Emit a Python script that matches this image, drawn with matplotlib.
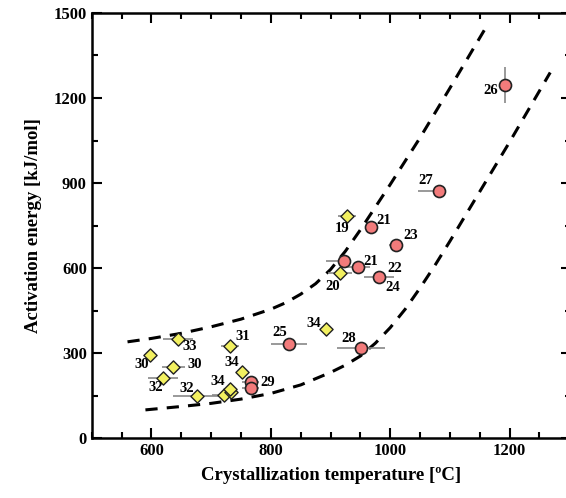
import numpy as np
import matplotlib
matplotlib.use('Agg')
import matplotlib.pyplot as plt
from matplotlib.ticker import MultipleLocator

""" Data read off the figure """

# circles (red)
circ_T = [1193, 1081, 968, 1010, 923, 946, 981, 830, 951, 766, 766]
circ_E = [1246, 873, 745, 681, 625, 604, 568, 334, 319, 199, 178]
circ_xlo = [0, 35, 0, 12, 30, 20, 25, 30, 40, 15, 15]
circ_xhi = [0, 10, 0, 12, 10, 20, 25, 30, 40, 15, 15]
circ_yerr = [65, 0, 0, 0, 0, 0, 0, 0, 0, 0, 0]

# diamonds (yellow)
dia_T = [928, 916, 892, 644, 731, 597, 637, 620, 751, 677, 721, 733, 731]
dia_E = [785, 582, 387, 351, 327, 295, 252, 213, 234, 149, 153, 163, 174]
dia_xerr = [15, 20, 0, 25, 15, 10, 20, 25, 0, 40, 20, 0, 0]

# labels: text, x, y
lab_txt = ['26', '27', '21', '19', '23', '21', '22', '24', '20', '34', '25', '28',
           '31', '33', '30', '30', '32', '34', '29', '32', '34']
lab_T = [1169, 1059, 990, 919, 1035, 968, 1007, 1005, 904, 872, 815, 931,
         753, 664, 583, 672, 608, 734, 795, 660, 711]
lab_E = [1228, 909, 767, 738, 714, 625, 600, 532, 536, 405, 373, 351,
         359, 323, 259, 259, 178, 266, 195, 174, 199]

# dashed guide curves
up_T = [560, 600, 650, 700, 750, 800, 825, 850, 875, 900, 925, 950, 975, 1000, 1050, 1100, 1162]
up_E = [340, 352, 370, 393, 420, 455, 478, 508, 545, 595, 660, 735, 815, 895, 1060, 1235, 1455]
lo_T = [590, 650, 700, 750, 800, 850, 900, 925, 950, 975, 1000, 1025, 1050, 1075, 1100, 1150, 1200, 1268]
lo_E = [100, 112, 123, 138, 158, 188, 232, 258, 290, 335, 390, 455, 530, 610, 695, 870, 1045, 1290]

plt.rcParams['font.family'] = ['Liberation Serif', 'DejaVu Serif']
plt.rcParams['font.weight'] = 'bold'

fig = plt.figure(figsize=(5.66, 4.98), dpi=100)
# right spine sits just past the figure edge, as in the original crop
ax = fig.add_axes([0.162, 0.12, 0.846, 0.854])

ax.plot(up_T, up_E, 'k--', lw=2.2, dashes=(4, 3))
ax.plot(lo_T, lo_E, 'k--', lw=2.2, dashes=(4, 3))

ax.errorbar(circ_T, circ_E, xerr=[circ_xlo, circ_xhi], yerr=circ_yerr, fmt='none',
            ecolor='#888888', elinewidth=1.2, capsize=0, zorder=2)
ax.errorbar(dia_T, dia_E, xerr=dia_xerr, fmt='none',
            ecolor='#888888', elinewidth=1.2, capsize=0, zorder=2)
ax.scatter(circ_T, circ_E, s=75, marker='o', c='#F27B7B', edgecolors='#222222',
           linewidths=1.2, zorder=3)
ax.scatter(dia_T, dia_E, s=45, marker='D', c='#F2F060', edgecolors='#222222',
           linewidths=1.0, zorder=3)

for t, x, y in zip(lab_txt, lab_T, lab_E):
    ax.text(x, y, t, fontsize=10.5, fontweight='bold', ha='center', va='center', zorder=4)

ax.set_xlim(500, 1302)
ax.set_ylim(0, 1500)
ax.xaxis.set_major_locator(MultipleLocator(200))
ax.xaxis.set_minor_locator(MultipleLocator(50))
ax.yaxis.set_major_locator(MultipleLocator(300))
ax.yaxis.set_minor_locator(MultipleLocator(150))
ax.tick_params(which='both', direction='in', top=True, right=True, width=1.5,
               labelsize=12)
ax.tick_params(which='major', length=7)
ax.tick_params(which='minor', length=4)
for s in ax.spines.values():
    s.set_linewidth(1.8)
for lab in ax.get_xticklabels() + ax.get_yticklabels():
    lab.set_fontweight('bold')

ax.set_xlabel('Crystallization temperature [ºC]', fontsize=13.5, fontweight='bold', labelpad=6)
ax.set_ylabel('Activation energy [kJ/mol]', fontsize=13.5, fontweight='bold', labelpad=8)

plt.savefig('out.png', dpi=100)
